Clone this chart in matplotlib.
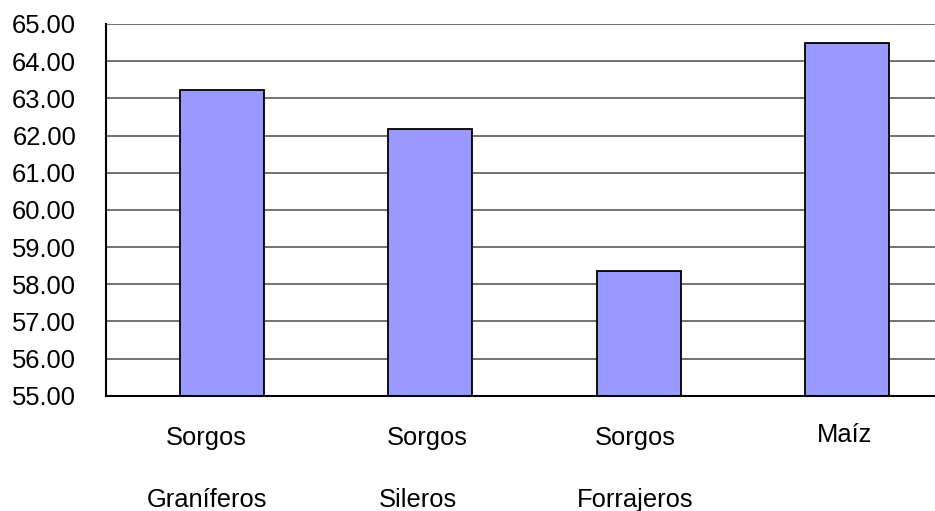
import matplotlib
matplotlib.use("Agg")
import matplotlib.pyplot as plt
import matplotlib.transforms as mtransforms

# Data
first_line = ["Sorgos", "Sorgos", "Sorgos", "Maíz"]
second_line = ["Graníferos", "Sileros", "Forrajeros", ""]
values = [63.22, 62.17, 58.35, 64.48]
yticks = [55, 56, 57, 58, 59, 60, 61, 62, 63, 64, 65]

plt.rcParams["font.family"] = ["Liberation Sans", "DejaVu Sans"]
FS = 18.4

fig = plt.figure(figsize=(9.35, 5.11), dpi=100)
ax = fig.add_axes([106 / 935, 1 - 395.7 / 511, 1 - 106 / 935, (395.7 - 24) / 511])

x = list(range(len(values)))
ax.bar(x, values, width=0.403, bottom=0, color="#9999FF", edgecolor="black",
       linewidth=1.3, zorder=3)

ax.set_ylim(55, 65)
ax.set_xlim(-0.557, 3.423)
ax.set_yticks(yticks)
ax.set_yticklabels([f"{v:.2f}" for v in yticks], fontsize=FS)
ax.tick_params(axis="y", length=0, pad=21.5)
ax.set_xticks([])
ax.yaxis.grid(True, color="#4a4a4a", linewidth=1.1, zorder=1)
ax.set_axisbelow(True)

for side in ("top", "right"):
    ax.spines[side].set_visible(False)
ax.spines["left"].set_linewidth(1.5)
ax.spines["bottom"].set_linewidth(1.5)
ax.spines["bottom"].set_zorder(4)

# Category labels, two lines each, placed under the axis
base = mtransforms.blended_transform_factory(ax.transData, fig.transFigure)
dx1 = [-15.5, -3, -3, -2]
dx2 = [-15.5, -12, -3, 0]
y1 = [1 - 445 / 511, 1 - 445 / 511, 1 - 445 / 511, 1 - 442 / 511]
y2 = 1 - 507 / 511
for i, (a, b) in enumerate(zip(first_line, second_line)):
    t1 = mtransforms.offset_copy(base, fig=fig, x=dx1[i], y=0, units="dots")
    ax.text(i, y1[i], a, transform=t1, ha="center", va="baseline", fontsize=FS)
    if b:
        t2 = mtransforms.offset_copy(base, fig=fig, x=dx2[i], y=0, units="dots")
        ax.text(i, y2, b, transform=t2, ha="center", va="baseline", fontsize=FS)

fig.savefig("out.png", dpi=100)
